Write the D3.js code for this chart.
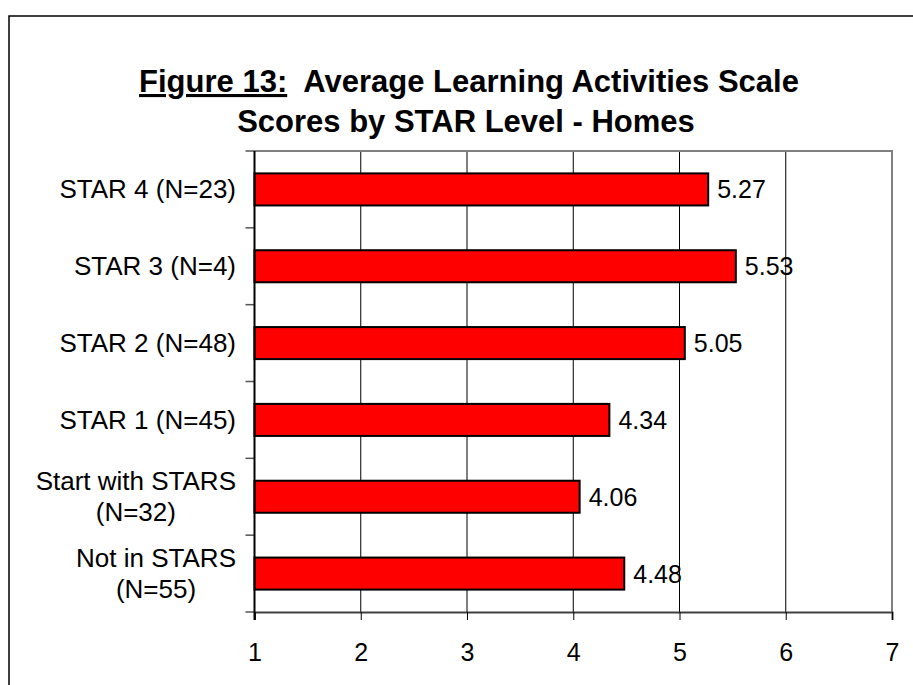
<!DOCTYPE html>
<html>
<head>
<meta charset="utf-8">
<script src="https://cdn.jsdelivr.net/npm/d3@7"></script>
<style>
  body { margin: 0; background: #fff; }
  text { font-family: "Liberation Sans", Arial, sans-serif; fill: #000; }
</style>
</head>
<body>
<div id="chart"></div>
<script>
const categories = ["STAR 4 (N=23)", "STAR 3 (N=4)", "STAR 2 (N=48)", "STAR 1 (N=45)",
    "Start with STARS\n(N=32)", "Not in STARS\n(N=55)"];
const scores = [5.27, 5.53, 5.05, 4.34, 4.06, 4.48];
const xTicks = [1, 2, 3, 4, 5, 6, 7];
const titleLines = ["Average Learning Activities Scale", "Scores by STAR Level - Homes"];

const W = 913, H = 685;
const plot = { left: 254.5, right: 892, top: 151, bottom: 612 };

const svg = d3.select("#chart")
    .append("svg")
    .attr("width", W)
    .attr("height", H);

// outer frame (runs off the right and bottom edge)
svg.append("rect")
    .attr("x", 9)
    .attr("y", 16)
    .attr("width", 930)
    .attr("height", 700)
    .attr("fill", "#fff")
    .attr("stroke", "#000")
    .attr("stroke-width", 1.5);

// title
const title = svg.append("text")
    .attr("x", 469)
    .attr("y", 92)
    .attr("text-anchor", "middle")
    .style("font-size", "31px")
    .style("font-weight", "bold")
    .style("white-space", "pre");
title.append("tspan")
    .style("text-decoration", "underline")
    .text("Figure 13:");
title.append("tspan").text("  " + titleLines[0]);

svg.append("text")
    .attr("x", 466)
    .attr("y", 132)
    .attr("text-anchor", "middle")
    .style("font-size", "31px")
    .style("font-weight", "bold")
    .text(titleLines[1]);

const x = d3.scaleLinear().domain([1, 7]).range([plot.left, plot.right]);
const y = d3.scaleBand()
    .domain(categories)
    .range([plot.top, plot.bottom])
    .paddingInner(0.583)
    .paddingOuter(0.2915);
const step = y.step();

// gridlines
svg.append("g")
    .selectAll("line")
    .data(xTicks.slice(1, -1))
    .enter()
    .append("line")
    .attr("x1", d => x(d))
    .attr("x2", d => x(d))
    .attr("y1", plot.top)
    .attr("y2", plot.bottom)
    .attr("stroke", "#000")
    .attr("stroke-width", 1);

// plot border top / right
svg.append("path")
    .attr("d", `M${plot.left},${plot.top}H${plot.right}V${plot.bottom}`)
    .attr("fill", "none")
    .attr("stroke", "#808080")
    .attr("stroke-width", 2);

// bars
svg.append("g")
    .selectAll("rect")
    .data(scores)
    .enter()
    .append("rect")
    .attr("x", x(1))
    .attr("y", (d, i) => y(categories[i]))
    .attr("width", d => x(d) - x(1))
    .attr("height", y.bandwidth())
    .attr("fill", "#ff0000")
    .attr("stroke", "#000")
    .attr("stroke-width", 2);

// value labels
svg.append("g")
    .selectAll("text")
    .data(scores)
    .enter()
    .append("text")
    .attr("x", d => x(d) + 9)
    .attr("y", (d, i) => y(categories[i]) + y.bandwidth() / 2 + 9)
    .style("font-size", "25px")
    .text(d => d.toFixed(2));

// x axis
const xAxis = svg.append("g")
    .attr("transform", `translate(0, ${plot.bottom})`)
    .call(d3.axisBottom(x).tickValues(xTicks).tickSize(8).tickPadding(23).tickFormat(d3.format("d")));
xAxis.select(".domain").attr("stroke", "#404040").attr("stroke-width", 2);
xAxis.selectAll(".tick line").attr("stroke", "#000").attr("stroke-width", 1);
xAxis.selectAll(".tick text")
    .attr("fill", "#000")
    .style("font-size", "25px")
    .style("font-family", "'Liberation Sans', Arial, sans-serif");

// y axis: ticks sit between categories
const boundaries = d3.range(categories.length + 1).map(i => plot.top + i * step);
svg.append("g")
    .selectAll("line")
    .data(boundaries)
    .enter()
    .append("line")
    .attr("x1", plot.left - 9)
    .attr("x2", plot.left)
    .attr("y1", d => d)
    .attr("y2", d => d)
    .attr("stroke", "#555")
    .attr("stroke-width", 1.5);
svg.append("line")
    .attr("x1", plot.left)
    .attr("x2", plot.left)
    .attr("y1", plot.top)
    .attr("y2", plot.bottom + 8)
    .attr("stroke", "#000")
    .attr("stroke-width", 2);

// category labels: block right aligned, lines centred inside it
const labelRight = 236;
const lineH = 31;
categories.forEach((c, i) => {
    const lines = c.split("\n");
    const cy = y(c) + y.bandwidth() / 2;
    const g = svg.append("g");
    const texts = lines.map((t, j) => g.append("text")
        .attr("y", cy + 9 + (j - (lines.length - 1) / 2) * lineH)
        .style("font-size", "26px")
        .text(t));
    const widths = texts.map(t => t.node().getComputedTextLength());
    const maxW = d3.max(widths);
    texts.forEach(t => {
        t.attr("x", labelRight - maxW / 2).attr("text-anchor", "middle");
    });
});
</script>
</body>
</html>
